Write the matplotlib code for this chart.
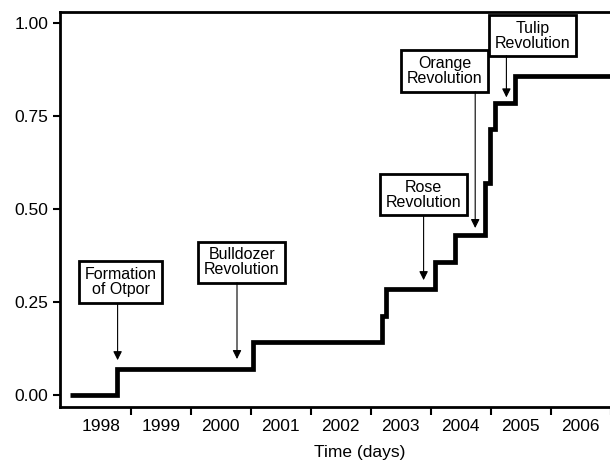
import matplotlib.pyplot as plt

plt.rcParams['font.family'] = ['Liberation Sans', 'DejaVu Sans']

# cumulative share of events, stepping at (fractional) dates
step_dates = [1997.98, 1998.77, 2001.03, 2003.19, 2003.26, 2004.07, 2004.40,
              2004.90, 2004.98, 2005.07, 2005.40, 2007.50]
step_values = [0.0, 0.071, 0.143, 0.214, 0.286, 0.357, 0.429,
               0.571, 0.714, 0.786, 0.857, 0.857]

years = [1998, 1999, 2000, 2001, 2002, 2003, 2004, 2005, 2006]
y_ticks = [0.0, 0.25, 0.5, 0.75, 1.0]

# annotations: label, box centre (x, y), arrow x, arrow tip y
labels = ['Formation\nof Otpor', 'Bulldozer\nRevolution', 'Rose\nRevolution',
          'Orange\nRevolution', 'Tulip\nRevolution']
box_x = [1998.83, 2000.85, 2003.88, 2004.23, 2005.70]
box_y = [0.304, 0.357, 0.538, 0.871, 0.966]
box_bottom = [0.245, 0.302, 0.482, 0.815, 0.912]
arrow_x = [1998.78, 2000.77, 2003.88, 2004.74, 2005.26]
arrow_tip = [0.094, 0.097, 0.309, 0.449, 0.80]

fig = plt.figure(figsize=(6.1, 4.63), dpi=100)
ax = fig.add_axes([60 / 610, 0.1216, 600 / 610, 0.853])

ax.step(step_dates, step_values, where='post', color='black', lw=3.4,
        solid_joinstyle='miter', solid_capstyle='butt')

for lab, bx, by, bb, axx, tip in zip(labels, box_x, box_y, box_bottom, arrow_x, arrow_tip):
    ax.text(bx, by, lab, ha='center', va='center', fontsize=11.5, linespacing=1.0,
            bbox=dict(boxstyle='square,pad=0.35', fc='white', ec='black', lw=2))
    ax.annotate('', xy=(axx, tip), xytext=(axx, bb),
                arrowprops=dict(arrowstyle='-|>', color='black', lw=0.8,
                                mutation_scale=13, shrinkA=0, shrinkB=0))

ax.set_xlim(1997.82, 2007.82)
ax.set_ylim(-0.031, 1.03)

ax.set_yticks(y_ticks)
ax.set_yticklabels([f'{v:.2f}' for v in y_ticks])
ax.set_xticks([y + 1.0 for y in years])
ax.set_xticklabels([])
ax.set_xticks([y + 0.5 for y in years], minor=True)
ax.set_xticklabels([str(y) for y in years], minor=True)

ax.tick_params(axis='y', labelsize=12.5, width=1.5, length=5, direction='out')
ax.tick_params(axis='x', which='major', width=1.5, length=6, direction='out')
ax.tick_params(axis='x', which='minor', labelsize=12.5, length=0, pad=9)

for side in ['left', 'bottom', 'top']:
    ax.spines[side].set_linewidth(2)
ax.spines['right'].set_visible(False)

ax.set_xlabel('Time (days)', fontsize=12.5, labelpad=8)

fig.savefig('out.png', dpi=100)
